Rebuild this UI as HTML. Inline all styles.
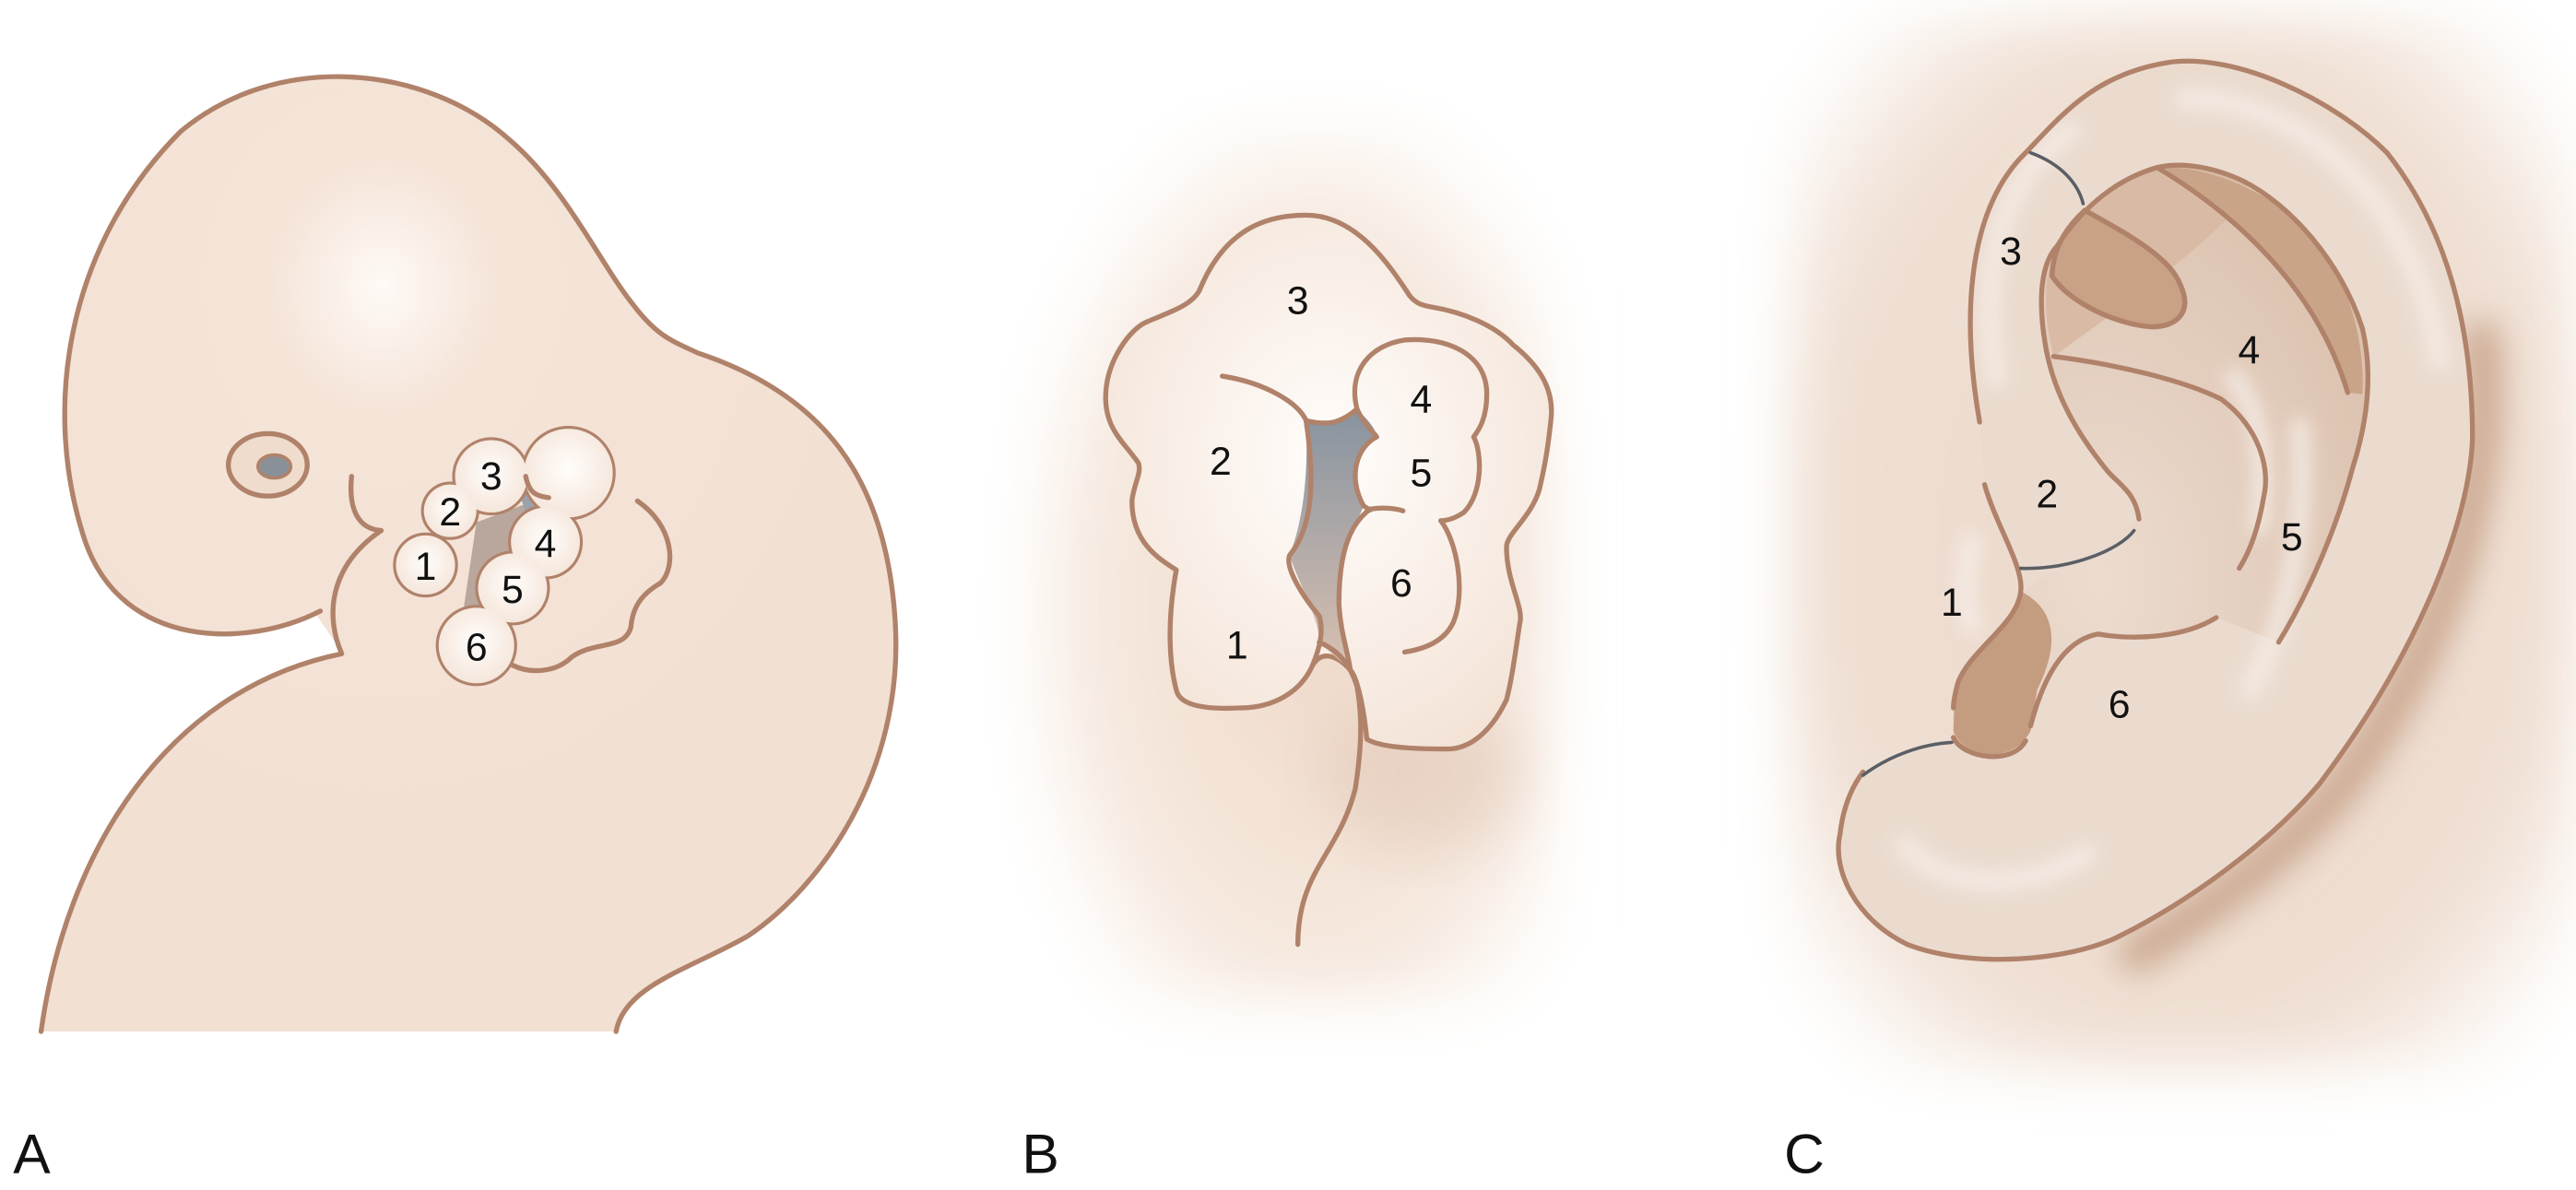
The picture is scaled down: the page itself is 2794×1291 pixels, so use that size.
<!DOCTYPE html>
<html><head><meta charset="utf-8"><style>
html,body{margin:0;padding:0;background:#fff;}
svg{display:block;}
text{font-family:"Liberation Sans",sans-serif;fill:#111;}
</style></head><body>
<svg width="2794" height="1291" viewBox="0 0 1568 724.5" preserveAspectRatio="none" xmlns="http://www.w3.org/2000/svg">
<defs>
<radialGradient id="headG" cx="0.4" cy="0.22" r="0.6">
<stop offset="0" stop-color="#fefaf6"/><stop offset="0.22" stop-color="#f5e4d8"/><stop offset="1" stop-color="#f2e0d3"/></radialGradient>
<radialGradient id="bgB" cx="0.55" cy="0.55" r="0.6">
<stop offset="0" stop-color="#efd9c9"/><stop offset="0.7" stop-color="#f6e9df"/><stop offset="1" stop-color="#fff"/></radialGradient>
<radialGradient id="bgC" cx="0.5" cy="0.5" r="0.65">
<stop offset="0" stop-color="#ead7c9"/><stop offset="0.75" stop-color="#f0e0d4"/><stop offset="1" stop-color="#fff"/></radialGradient>
<linearGradient id="gapG" x1="0" y1="0" x2="0" y2="1">
<stop offset="0" stop-color="#8793a0"/><stop offset="1" stop-color="#d9c0b0"/></linearGradient>
<radialGradient id="blob" cx="0.5" cy="0.45" r="0.6">
<stop offset="0" stop-color="#fffdfb"/><stop offset="1" stop-color="#f4e4d8"/></radialGradient>
<radialGradient id="concha" cx="0.35" cy="0.7" r="0.75">
<stop offset="0" stop-color="#ecdcd0"/><stop offset="1" stop-color="#dcc2af"/></radialGradient>
<filter id="bl" x="-20%" y="-20%" width="140%" height="140%"><feGaussianBlur stdDeviation="18"/></filter>
<filter id="bl2" x="-20%" y="-20%" width="140%" height="140%"><feGaussianBlur stdDeviation="5"/></filter>
<filter id="bl3" x="-30%" y="-30%" width="160%" height="160%"><feGaussianBlur stdDeviation="10"/></filter>
</defs>
<g fill="none" stroke="#b0826a" stroke-width="3" stroke-linejoin="round" stroke-linecap="round">
<!-- Panel A -->
<path d="M195,372 C150,395 75,395 52,330 C25,250 40,150 110,80 C170,30 260,40 310,85 C345,115 365,160 385,185 C400,205 410,208 425,215 C500,240 540,290 545,380 C550,470 500,540 455,570 C420,590 380,600 375,628 L25,628 C40,520 100,420 208,398 Z" fill="url(#headG)" stroke="none"/>
<path d="M193,375 L214,285 L242,322 L210,400 Z" fill="#f3e2d5" stroke="none"/>
<path d="M195,372 C150,395 75,395 52,330 C25,250 40,150 110,80 C170,30 260,40 310,85 C345,115 365,160 385,185 C400,205 410,208 425,215 C500,240 540,290 545,380 C550,470 500,540 455,570 C420,590 380,600 375,628"/>
<path d="M25,628 C40,520 100,420 208,398 C198,375 200,345 232,323"/>
<path d="M214,290 C212,310 218,322 232,323"/>
<ellipse cx="163" cy="283" rx="24" ry="19" fill="#efdccd"/>
<ellipse cx="167" cy="284" rx="10" ry="7" fill="#8a9098" stroke-width="2"/>
<path d="M290,318 L322,306 L318,360 L300,378 L282,372 Z" fill="#b9a69c" stroke="none"/>
<path d="M316,300 L330,300 L322,318 Z" fill="#9aa2ab" stroke="none"/>
<g stroke-width="3.5">
<circle cx="299" cy="290" r="22"/><circle cx="346" cy="288" r="27"/><circle cx="274" cy="311" r="16"/>
<circle cx="259" cy="344" r="18"/><circle cx="332" cy="330" r="21"/><circle cx="312" cy="358" r="21"/><circle cx="290" cy="393" r="23"/>
</g>
<g stroke="none" fill="url(#blob)">
<circle cx="299" cy="290" r="22"/><circle cx="346" cy="288" r="27"/><circle cx="274" cy="311" r="16"/>
<circle cx="259" cy="344" r="18"/><circle cx="332" cy="330" r="21"/><circle cx="312" cy="358" r="21"/><circle cx="290" cy="393" r="23"/>
</g>
<path d="M320,290 C322,300 326,302 334,303"/>
<path d="M388,305 C410,320 412,345 402,355 C390,362 385,370 384,382 C380,396 362,390 348,400 C338,410 322,410 312,405"/>
<!-- Panel B -->
<rect x="625" y="75" width="320" height="535" fill="url(#bgB)" stroke="none" filter="url(#bl)"/>
<ellipse cx="865" cy="470" rx="60" ry="50" fill="#dcc0ad" stroke="none" filter="url(#bl)" opacity="0.45"/>
<path d="M730,177 C745,140 770,131 795,131 C825,131 845,160 858,180 C862,185 866,186 872,187 C890,190 910,198 921,210 C940,225 946,240 944,256 C942,275 940,285 937,298 C932,315 917,325 917,333 C917,355 928,370 925,380 C922,400 920,415 917,426 C908,445 895,456 881,456 C860,456 840,455 832,450 C830,430 826,412 822,408 C815,400 805,395 799,405 C790,425 770,431 755,431 C735,432 718,430 716,420 C712,405 710,380 716,347 C705,340 689,330 689,305 C690,295 695,288 693,282 C685,270 673,262 673,242 C673,220 688,200 698,196 C712,190 725,186 730,177 Z" fill="url(#blob)"/>
<path d="M795,256 C810,260 818,256 826,249 C835,258 840,264 836,268 C826,275 822,295 830,308 C826,318 818,333 818,333 C812,350 815,368 815,368 C818,380 820,395 822,408 L803,391 C803,375 790,355 785,338 C790,325 797,300 795,256 Z" fill="url(#gapG)" stroke="none"/>
<path d="M744,229 C770,233 790,245 795,256 C800,290 800,320 785,338 C782,345 792,362 803,375 C806,385 803,395 799,405"/>
<path d="M795,256 C810,260 818,256 826,249"/>
<path d="M826,249 C820,225 835,210 855,207 C880,205 905,215 905,240 C905,255 900,262 897,266 C902,275 903,300 891,312 C885,316 880,317 877,317"/>
<path d="M826,249 C830,258 836,263 838,266 C826,272 820,290 830,308 C833,310 835,311 834,310"/>
<path d="M834,310 C840,309 848,309 854,311"/>
<path d="M834,310 C820,320 815,340 815,368 C816,385 820,395 822,408"/>
<path d="M877,317 C887,330 892,360 885,378 C880,390 868,395 855,397"/>
<path d="M803,391 C815,396 822,405 826,418 C830,440 828,460 825,480 C815,520 790,530 790,575"/>
<!-- Panel C -->
<rect x="1090" y="10" width="478" height="640" fill="url(#bgC)" stroke="none" filter="url(#bl)"/>
<path d="M1500,200 C1510,300 1470,400 1412,477 C1380,515 1330,550 1290,575" stroke="#c9a68d" stroke-width="22" filter="url(#bl3)" transform="translate(10,6)"/>
<path d="M1205,257 C1195,200 1195,130 1233,93 C1255,70 1275,45 1320,38 C1360,32 1420,60 1453,93 C1490,140 1505,200 1505,267 C1503,320 1470,400 1412,477 C1380,515 1330,550 1290,570 C1260,585 1200,590 1161,575 C1130,560 1115,530 1120,508 C1122,490 1128,478 1134,470 L1189,449 L1189,431 C1195,400 1230,380 1230,360 C1232,345 1215,320 1208,295 Z" fill="#ebdbcf" stroke="none"/>
<path d="M1302,316 C1300,300 1290,295 1283,287 C1265,265 1250,240 1245,210 C1240,180 1243,160 1252,150 C1265,130 1285,110 1313,102 C1330,98 1350,103 1365,110 C1395,125 1425,160 1438,200 C1445,230 1440,260 1432,285 C1420,330 1400,370 1387,391 L1349,376 C1330,388 1300,390 1277,386 C1255,390 1243,415 1236,442 L1233,451 C1225,466 1195,462 1189,449 L1189,431 C1195,400 1230,380 1230,360 Z" fill="url(#concha)" stroke="none"/>
<path d="M1252,150 C1265,130 1285,110 1313,102 C1330,98 1350,103 1365,110 C1380,118 1330,160 1250,217 C1243,190 1244,165 1252,150 Z" fill="#d9bba5" stroke="none"/>
<path d="M1313,102 C1360,130 1410,175 1429,239 L1438,240 C1440,200 1425,160 1400,135 C1380,118 1345,100 1313,102 Z" fill="#c9a488" stroke="none"/>
<path d="M1269,128 C1290,140 1320,155 1327,173 C1335,190 1325,199 1310,199 C1290,198 1260,185 1249,168 C1250,150 1258,138 1269,128 Z" fill="#c9a186"/>
<path d="M1230,360 C1250,370 1255,390 1240,420 L1236,445 C1225,466 1195,462 1189,445 L1190,420 C1195,395 1228,380 1230,360 Z" fill="#c49c80" stroke="none"/>
<g stroke="#f6eee8" stroke-width="12" opacity="0.75" filter="url(#bl2)">
<path d="M1215,230 C1205,170 1215,110 1260,80"/>
<path d="M1330,60 C1400,60 1470,120 1485,220"/>
<path d="M1400,260 C1405,330 1390,380 1370,420"/>
<path d="M1160,515 C1180,540 1230,545 1270,520"/>
<path d="M1360,230 C1375,250 1380,280 1375,320"/>
<path d="M1200,330 C1195,350 1195,370 1200,380"/>
</g>
<path d="M1205,257 C1195,200 1195,130 1233,93 C1255,70 1275,45 1320,38 C1360,32 1420,60 1453,93 C1490,140 1505,200 1505,267 C1503,320 1470,400 1412,477 C1380,515 1330,550 1290,570 C1260,585 1200,590 1161,575 C1130,560 1115,530 1120,508 C1122,490 1128,478 1134,470"/>
<path d="M1208,295 C1215,320 1232,345 1230,360 C1228,380 1200,395 1192,415 C1189,425 1189,431 1189,431"/>
<path d="M1189,449 C1195,462 1225,466 1233,451"/>
<path d="M1236,442 C1243,415 1255,390 1277,386 C1300,390 1330,388 1349,376"/>
<path d="M1302,316 C1300,300 1290,295 1283,287 C1265,265 1250,240 1245,210 C1240,180 1243,160 1252,150 C1265,130 1285,110 1313,102 C1330,98 1350,103 1365,110 C1395,125 1425,160 1438,200 C1445,230 1440,260 1432,285 C1420,330 1400,370 1387,391"/>
<path d="M1313,102 C1360,130 1410,175 1429,239"/>
<path d="M1269,128 C1290,140 1320,155 1327,173 C1335,190 1325,199 1310,199 C1290,198 1260,185 1249,168"/>
<path d="M1250,217 C1290,222 1330,232 1352,243 C1375,260 1382,285 1378,302 C1375,320 1370,335 1363,346"/>
<path d="M1236,93 C1255,100 1265,112 1268,124" stroke="#5a5f66" stroke-width="2"/>
<path d="M1230,346 C1260,347 1290,335 1299,323" stroke="#5a5f66" stroke-width="2"/>
<path d="M1134,472 C1150,460 1170,453 1188,452" stroke="#5a5f66" stroke-width="2"/>
</g>
<g font-size="24" text-anchor="middle">
<text x="259" y="353">1</text><text x="274" y="320">2</text><text x="299" y="298">3</text>
<text x="332" y="339">4</text><text x="312" y="367">5</text><text x="290" y="402">6</text>
<text x="753" y="401">1</text><text x="743" y="289">2</text><text x="790" y="191">3</text>
<text x="865" y="251">4</text><text x="865" y="296">5</text><text x="853" y="363">6</text>
<text x="1188" y="375">1</text><text x="1246" y="309">2</text><text x="1224" y="161">3</text>
<text x="1369" y="221">4</text><text x="1395" y="335">5</text><text x="1290" y="437">6</text>
</g>
<g font-size="34">
<text x="8" y="714">A</text><text x="622" y="714">B</text><text x="1086" y="714">C</text>
</g>
</svg>
</body></html>
